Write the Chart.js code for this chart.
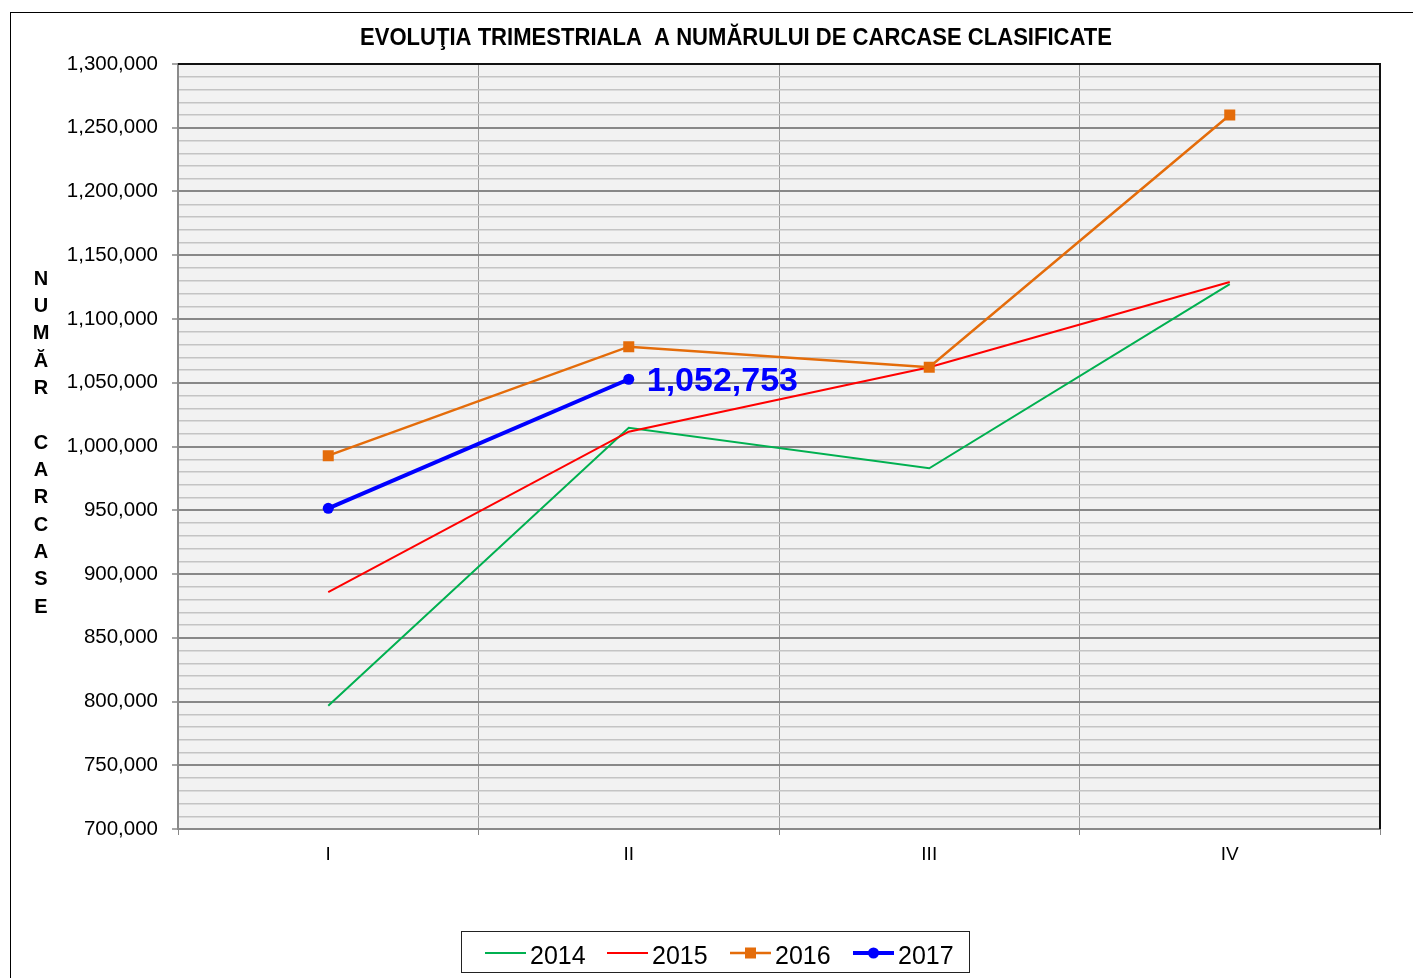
<!DOCTYPE html>
<html>
<head>
<meta charset="utf-8">
<script src="https://cdn.jsdelivr.net/npm/chart.js@4"></script>
<style>
  html, body { margin: 0; padding: 0; background: #fff; }
  #wrap { position: absolute; left: 0; top: 0; width: 1413px; height: 978px; }
</style>
</head>
<body>
<div id="wrap"><canvas id="chart" width="1413" height="978"></canvas></div>
<script>
// quarter labels and series values
const quarters = ['I', 'II', 'III', 'IV'];
const years = ['2014', '2015', '2016', '2017'];
const s2014 = [796700, 1014700, 982900, 1127400];
const s2015 = [885700, 1011600, 1062200, 1129000];
const s2016 = [992800, 1078300, 1062100, 1260000];
const s2017 = [951500, 1052753];

const yMin = 700000;
const yMax = 1300000;
const majorStep = 50000;
const minorStep = 10000;

const titleText = 'EVOLUŢIA TRIMESTRIALA  A NUMĂRULUI DE CARCASE CLASIFICATE';
const yTitleLetters = ['N', 'U', 'M', 'Ă', 'R', '', 'C', 'A', 'R', 'C', 'A', 'S', 'E'];

const colors = ['#00b050', '#ff0000', '#e46c0a', '#0000ff'];

function fmt(v) {
    return v.toLocaleString('en-US');
}

// frame, plot background, title and vertical axis title
const decorPlugin = {
    id: 'decor',
    beforeDraw(chart) {
        const ctx = chart.ctx;
        const a = chart.chartArea;
        ctx.save();
        ctx.fillStyle = '#ffffff';
        ctx.fillRect(0, 0, chart.width, chart.height);
        ctx.strokeStyle = '#000';
        ctx.lineWidth = 1;
        ctx.strokeRect(10.5, 12.5, 1600, 1200);
        ctx.fillStyle = '#f2f2f2';
        ctx.fillRect(a.left, a.top, a.right - a.left, a.bottom - a.top);
        ctx.restore();
    },
    afterDraw(chart) {
        const ctx = chart.ctx;
        const a = chart.chartArea;
        ctx.save();
        // black top and right border of the plot
        ctx.strokeStyle = '#111';
        ctx.lineWidth = 2;
        ctx.beginPath();
        ctx.moveTo(a.left, a.top);
        ctx.lineTo(a.right, a.top);
        ctx.lineTo(a.right, a.bottom);
        ctx.stroke();

        // title, squeezed to the width of the original
        ctx.fillStyle = '#000';
        ctx.font = 'bold 23px "Liberation Sans", Arial, sans-serif';
        ctx.textBaseline = 'middle';
        ctx.textAlign = 'center';
        const w = ctx.measureText(titleText).width;
        const target = 752;
        ctx.save();
        ctx.translate(736, 39);
        ctx.scale(target / w, 1);
        ctx.fillText(titleText, 0, 0);
        ctx.restore();

        // vertical axis title, one letter per line
        ctx.font = 'bold 20px "Liberation Sans", Arial, sans-serif';
        yTitleLetters.forEach((ch, i) => {
            ctx.fillText(ch, 41, 279 + i * 27.35);
        });
        ctx.restore();
    }
};

// value label next to the last point of 2017
const labelPlugin = {
    id: 'lastLabel',
    afterDatasetsDraw(chart) {
        const meta = chart.getDatasetMeta(3);
        const pt = meta.data[s2017.length - 1];
        if (!pt) return;
        const ctx = chart.ctx;
        ctx.save();
        ctx.fillStyle = '#0000ff';
        ctx.font = 'bold 34px "Liberation Sans", Arial, sans-serif';
        ctx.textAlign = 'left';
        ctx.textBaseline = 'middle';
        ctx.fillText(fmt(s2017[s2017.length - 1]), pt.x + 18, pt.y + 2);
        ctx.restore();
    }
};

// legend drawn like the spreadsheet one: line sample with marker
const legendPlugin = {
    id: 'sheetLegend',
    afterDraw(chart) {
        const ctx = chart.ctx;
        ctx.save();
        ctx.strokeStyle = '#222';
        ctx.lineWidth = 1;
        ctx.strokeRect(461.5, 931.5, 508, 41);
        const startX = [485, 607, 730, 853];
        const cy = 953;
        ctx.font = '25px "Liberation Sans", Arial, sans-serif';
        ctx.textBaseline = 'middle';
        ctx.textAlign = 'left';
        chart.data.datasets.forEach((ds, i) => {
            const x0 = startX[i];
            ctx.strokeStyle = ds.borderColor;
            ctx.lineWidth = ds.borderWidth;
            ctx.beginPath();
            ctx.moveTo(x0, cy);
            ctx.lineTo(x0 + 41, cy);
            ctx.stroke();
            const mx = x0 + 20.5;
            ctx.fillStyle = ds.borderColor;
            if (ds.pointStyle === 'rect') {
                ctx.fillRect(mx - 5.5, cy - 5.5, 11, 11);
            } else if (ds.pointStyle === 'circle' && ds.pointRadius > 0) {
                ctx.beginPath();
                ctx.arc(mx, cy, 5.5, 0, Math.PI * 2);
                ctx.fill();
            }
            ctx.fillStyle = '#000';
            ctx.fillText(ds.label, x0 + 45, cy + 4);
        });
        ctx.restore();
    }
};

const ctx = document.getElementById('chart').getContext('2d');

const chart = new Chart(ctx, {
    type: 'line',
    data: {
        labels: quarters,
        datasets: [
            {
                label: years[0],
                data: s2014,
                borderColor: colors[0],
                backgroundColor: colors[0],
                borderWidth: 2,
                pointRadius: 0,
                pointStyle: false,
                order: 4
            },
            {
                label: years[1],
                data: s2015,
                borderColor: colors[1],
                backgroundColor: colors[1],
                borderWidth: 2,
                pointRadius: 0,
                pointStyle: false,
                order: 3
            },
            {
                label: years[2],
                data: s2016,
                borderColor: colors[2],
                backgroundColor: colors[2],
                borderWidth: 2.5,
                pointStyle: 'rect',
                pointRadius: 7.8,
                pointBorderWidth: 0,
                order: 2
            },
            {
                label: years[3],
                data: s2017,
                borderColor: colors[3],
                backgroundColor: colors[3],
                borderWidth: 4,
                pointStyle: 'circle',
                pointRadius: 5.5,
                pointBorderWidth: 0,
                order: 1
            }
        ]
    },
    options: {
        responsive: false,
        animation: false,
        devicePixelRatio: 1,
        layout: {
            padding: { left: 0, top: 64, right: 33, bottom: 109 }
        },
        plugins: {
            legend: { display: false },
            title: { display: false },
            tooltip: { enabled: false }
        },
        elements: {
            line: { tension: 0 }
        },
        scales: {
            x: {
                type: 'category',
                offset: true,
                afterFit(scale) {
                    scale.height = 40;
                },
                grid: {
                    offset: true,
                    color: '#9a9a9a',
                    lineWidth: 1,
                    tickLength: 6,
                    tickColor: '#888'
                },
                border: {
                    color: '#8a8a8a',
                    width: 2
                },
                ticks: {
                    color: '#000',
                    padding: 8,
                    font: { family: '"Liberation Sans", Arial, sans-serif', size: 19 }
                }
            },
            y: {
                min: yMin,
                max: yMax,
                afterFit(scale) {
                    scale.width = 178;
                },
                grid: {
                    color: (c) => (c.tick && c.tick.value % majorStep === 0) ? '#888888' : '#c4c4c4',
                    lineWidth: (c) => (c.tick && c.tick.value % majorStep === 0) ? 2 : 1.4,
                    tickLength: 6,
                    tickColor: (c) => (c.tick && c.tick.value % majorStep === 0) ? '#888' : 'rgba(0,0,0,0)',
                    tickWidth: 1.5
                },
                border: {
                    color: '#8a8a8a',
                    width: 2
                },
                ticks: {
                    stepSize: minorStep,
                    autoSkip: false,
                    color: '#000',
                    padding: 14,
                    font: { family: '"Liberation Sans", Arial, sans-serif', size: 20.5 },
                    callback: (v) => (v % majorStep === 0) ? fmt(v) : ''
                }
            }
        }
    },
    plugins: [decorPlugin, labelPlugin, legendPlugin]
});
</script>
</body>
</html>
